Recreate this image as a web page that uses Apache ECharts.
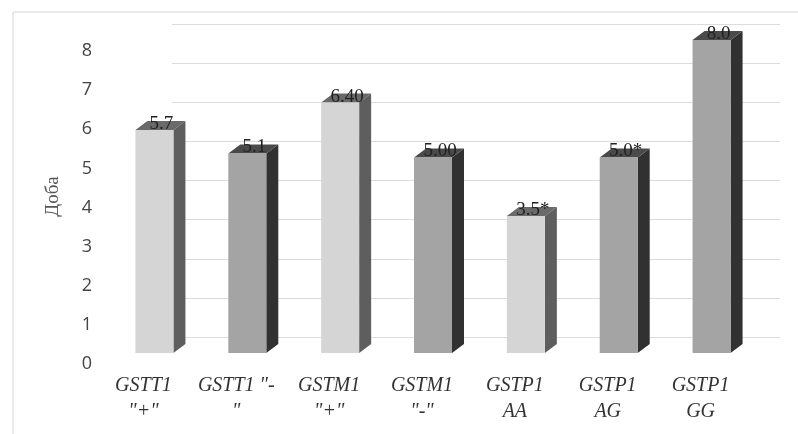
<!DOCTYPE html>
<html><head><meta charset="utf-8">
<script src="https://cdn.jsdelivr.net/npm/echarts@6/dist/echarts.min.js"></script>
<style>html,body{margin:0;padding:0;background:#fff}#c{width:798px;height:434px}</style>
</head><body><div id="c"></div>
<script>
const categories = ['GSTT1\n"+"', 'GSTT1 "-\n"', 'GSTM1\n"+"', 'GSTM1\n"-"', 'GSTP1\nAA', 'GSTP1\nAG', 'GSTP1\nGG'];
const values = [5.7, 5.1, 6.4, 5.0, 3.5, 5.0, 8.0];
const valueLabels = ['5.7', '5.1', '6.40', '5.00', '3.5*', '5.0*', '8.0'];
const shade = ['light', 'mid', 'light', 'mid', 'light', 'mid', 'mid'];
const yTicks = [0, 8, 1];

const palette = {
  light: {front: '#d5d5d5', side: '#5e5e5e', top: '#6a6a6a'},
  mid: {front: '#a4a4a4', side: '#313131', top: '#4a4a4a'}
};
const chart = echarts.init(document.getElementById('c'));
const DX = 12, DY = 9, W = 38;
chart.setOption({
  animation: false,
  graphic: [{type: 'rect', shape: {x: 13, y: 12, width: 800, height: 440}, style: {fill: 'none', stroke: '#d6d6d6', lineWidth: 1}, z: -10}],
  grid: [
    {left: 108, right: 40, top: 40, bottom: 81},
    {left: 172, right: 18, top: 24, bottom: 97}
  ],
  xAxis: [
    {type: 'category', data: categories, gridIndex: 0,
      axisLine: {show: false}, axisTick: {show: false},
      axisLabel: {margin: 20, fontFamily: 'Liberation Serif', fontStyle: 'italic', fontSize: 20, color: '#333', lineHeight: 26, padding: [0, 22, 0, 0], interval: 0}},
    {type: 'category', data: categories, gridIndex: 1, show: false}
  ],
  yAxis: [
    {type: 'value', min: yTicks[0], max: yTicks[1], interval: yTicks[2], gridIndex: 0,
      name: 'Доба', nameLocation: 'middle', nameGap: 45, nameRotate: 90,
      nameTextStyle: {fontFamily: 'Liberation Serif', fontSize: 19, color: '#555'},
      axisLine: {show: false}, axisTick: {show: false}, splitLine: {show: false},
      axisLabel: {margin: 16, fontFamily: 'Open Sans', fontSize: 18, color: '#444', verticalAlign: 'top', lineHeight: 22}},
    {type: 'value', min: yTicks[0], max: yTicks[1], interval: yTicks[2], gridIndex: 1,
      axisLine: {show: false}, axisTick: {show: false}, axisLabel: {show: false},
      splitLine: {show: true, lineStyle: {color: '#dcdcdc', width: 1}}}
  ],
  series: [{
    type: 'custom', xAxisIndex: 0, yAxisIndex: 0,
    data: values.map((v, i) => [i, v]),
    renderItem: function (params, api) {
      const i = api.value(0), v = api.value(1);
      const base = api.coord([i, 0]);
      const top = api.coord([i, v]);
      const x0 = base[0] - W / 2, x1 = base[0] + W / 2;
      const yb = base[1], yt = top[1];
      const p = palette[shade[i]];
      return {
        type: 'group',
        children: [
          {type: 'polygon', shape: {points: [[x1, yt], [x1 + DX, yt - DY], [x1 + DX, yb - DY], [x1, yb]]}, style: {fill: p.side}},
          {type: 'polygon', shape: {points: [[x0, yt], [x1, yt], [x1 + DX, yt - DY], [x0 + DX, yt - DY]]}, style: {fill: p.top}},
          {type: 'rect', shape: {x: x0, y: yt, width: W, height: yb - yt}, style: {fill: p.front}},
          {type: 'text', x: base[0] + 7, y: yt - 6,
            style: {text: valueLabels[i], fontFamily: 'Liberation Serif', fontSize: 19, fill: '#222', align: 'center', verticalAlign: 'middle'}}
        ]
      };
    }
  }]
});
</script></body></html>
